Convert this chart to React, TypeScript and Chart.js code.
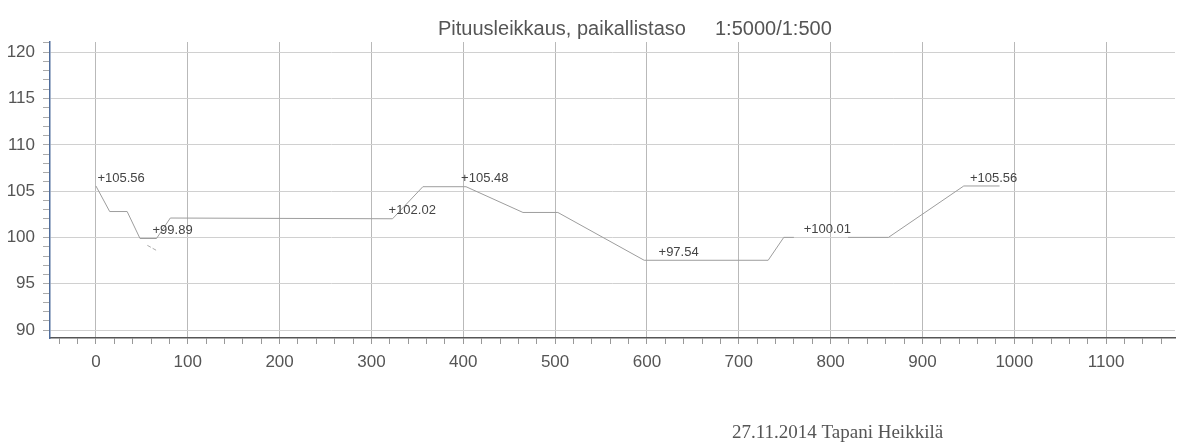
import React, { useEffect, useRef } from 'react';
import { Chart, registerables } from 'chart.js';

Chart.register(...registerables);

// Profile: station (m) and elevation (m)
const profileX = [0, 15, 34, 48, 66, 81, 323, 356, 403, 465, 503, 597, 732, 749, 760, 790, 819, 863, 945, 984];
const profileY = [105.56, 102.8, 102.8, 99.89, 99.89, 102.1, 102.02, 105.48, 105.48, 102.7, 102.7, 97.54, 97.54, 100.01, 100.01, null, 100.01, 100.01, 105.56, 105.56];

// Small stray dashed segment
const strayX = [56, 66];
const strayY = [99.15, 98.6];

// Elevation annotations
const labelX = [6, 66, 323, 402, 617, 775, 956];
const labelY = [105.56, 99.89, 102.02, 105.48, 97.54, 100.01, 105.56];
const labelText = ['+105.56', '+99.89', '+102.02', '+105.48', '+97.54', '+100.01', '+105.56'];

const titleMain = 'Pituusleikkaus, paikallistaso';
const titleScale = '1:5000/1:500';
const footerText = '27.11.2014 Tapani Heikkilä';

const xMin = -50;
const xMax = 1175;
const xMinorStep = 20;
const xMajorStep = 100;
const yMin = 89.15;
const yMax = 121.1;
const yMinorStep = 1;
const yMajorStep = 5;

const SANS = '"Liberation Sans", Arial, sans-serif';
const SERIF = '"Liberation Serif", "Times New Roman", serif';

const isMultiple = (v: number, step: number) => {
  const r = Math.abs(v % step);
  return r < 1e-6 || Math.abs(r - step) < 1e-6;
};

const textPlugin = {
  id: 'textPlugin',
  afterDatasetsDraw(chart: any) {
    const { ctx, scales } = chart;
    const x = scales.x;
    const y = scales.y;
    ctx.save();
    ctx.font = `13px ${SANS}`;
    ctx.fillStyle = '#444';
    ctx.textBaseline = 'middle';
    ctx.textAlign = 'left';
    labelText.forEach((t, i) => {
      ctx.fillText(t, x.getPixelForValue(labelX[i]) - 4, y.getPixelForValue(labelY[i]) - 8);
    });
    ctx.textBaseline = 'alphabetic';
    ctx.font = `20px ${SANS}`;
    ctx.fillStyle = '#555';
    ctx.fillText(titleMain, 438, 35);
    ctx.fillText(titleScale, 715, 35);
    ctx.font = `19px ${SERIF}`;
    ctx.fillStyle = '#555';
    ctx.fillText(footerText, 732, 438);
    ctx.restore();
  },
};

export default function App() {
  const ref = useRef<HTMLCanvasElement | null>(null);

  useEffect(() => {
    if (!ref.current) return;
    const chart = new Chart(ref.current, {
      type: 'line',
      data: {
        datasets: [
          {
            data: profileX.map((x, i) => ({ x, y: profileY[i] })) as any,
            borderColor: '#9d9d9d',
            borderWidth: 1,
            pointRadius: 0,
            spanGaps: false,
            tension: 0,
          },
          {
            data: strayX.map((x, i) => ({ x, y: strayY[i] })) as any,
            borderColor: '#aaaaaa',
            borderWidth: 1,
            borderDash: [4, 2],
            pointRadius: 0,
            tension: 0,
          },
        ],
      },
      options: {
        responsive: false,
        animation: false,
        layout: { padding: { top: 42, right: 21, left: 0, bottom: 0 } },
        plugins: {
          legend: { display: false },
          tooltip: { enabled: false },
          title: { display: false },
        },
        scales: {
          x: {
            type: 'linear',
            min: xMin,
            max: xMax,
            afterFit: (s: any) => {
              s.height = 110;
            },
            ticks: {
              stepSize: xMinorStep,
              includeBounds: false,
              autoSkip: false,
              maxRotation: 0,
              padding: 8,
              color: '#555',
              font: { family: SANS, size: 17 },
              callback: (v: any) => (isMultiple(Number(v), xMajorStep) ? String(Math.round(Number(v))) : ''),
            },
            grid: {
              color: (c: any) => (c.tick && isMultiple(c.tick.value, xMajorStep) ? '#b9b9b9' : 'rgba(0,0,0,0)'),
              tickColor: '#999',
              tickLength: 6,
              lineWidth: 1,
            },
            border: { color: '#555', width: 1.5 },
          },
          y: {
            type: 'linear',
            min: yMin,
            max: yMax,
            afterFit: (s: any) => {
              s.width = 50;
            },
            ticks: {
              stepSize: yMinorStep,
              includeBounds: false,
              autoSkip: false,
              padding: 8,
              color: '#555',
              font: { family: SANS, size: 17 },
              callback: (v: any) => (isMultiple(Number(v), yMajorStep) ? String(Math.round(Number(v))) : ''),
            },
            grid: {
              color: (c: any) => (c.tick && isMultiple(c.tick.value, yMajorStep) ? '#d0d0d0' : 'rgba(0,0,0,0)'),
              tickColor: '#aaa',
              tickLength: 7,
              lineWidth: 1,
            },
            border: { color: '#4f6d9c', width: 1.5 },
          },
        },
      } as any,
      plugins: [textPlugin],
    });
    return () => chart.destroy();
  }, []);

  return (
    <div style={{ position: 'fixed', left: 0, top: 0, width: 1196, height: 448, background: '#fff' }}>
      <canvas ref={ref} width={1196} height={448} />
    </div>
  );
}
